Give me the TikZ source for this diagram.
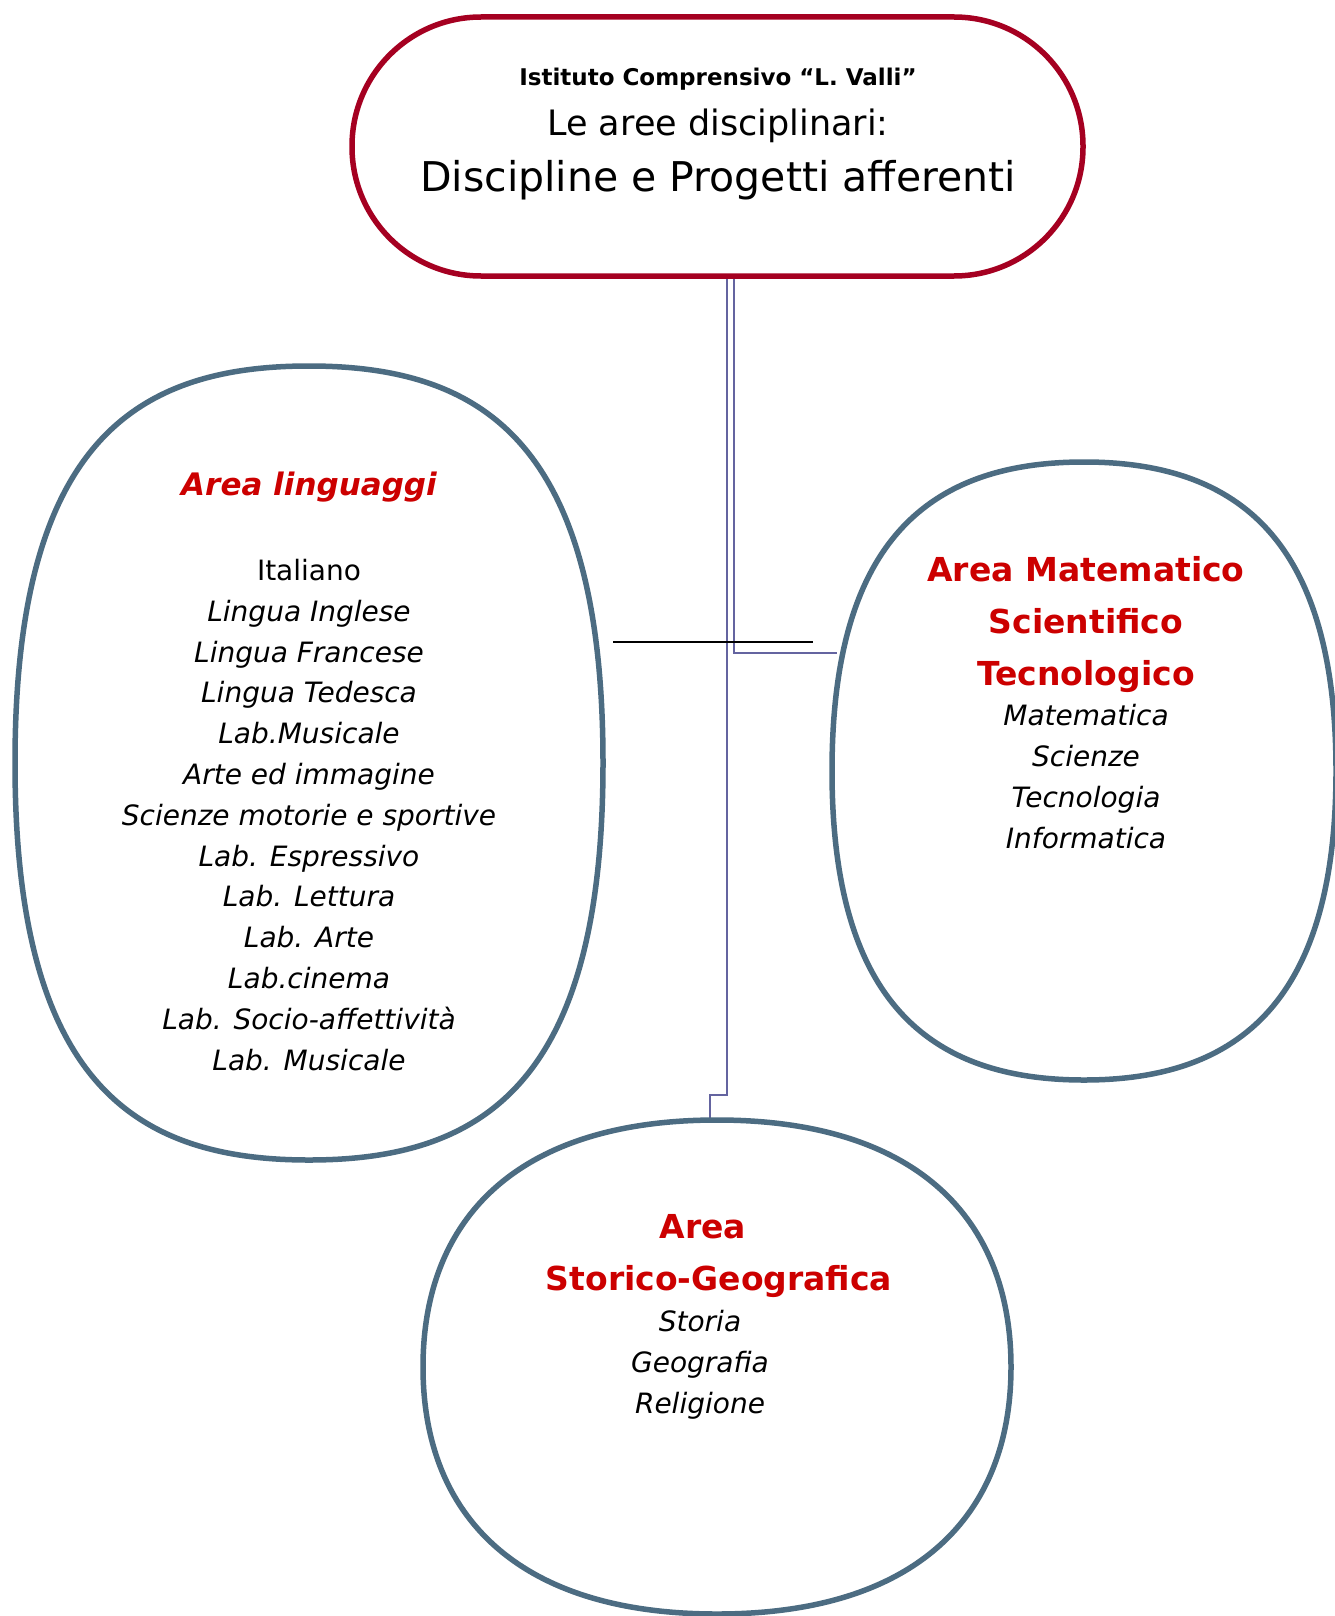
\documentclass[tikz,border=0pt]{standalone}
\usepackage{fontspec}
\setmainfont{DejaVu Sans}
\usepackage{tikz}
\usetikzlibrary{positioning,calc}
\definecolor{bordeaux}{RGB}{165,0,33}
\definecolor{slate}{RGB}{76,108,130}
\definecolor{titlered}{RGB}{204,0,0}
\definecolor{linkblue}{RGB}{100,100,160}
\tikzstyle{topbox}=[draw=bordeaux,line width=5.5pt,rounded corners=129pt,minimum width=731pt,minimum height=259pt,inner sep=0pt]
\tikzstyle{areabox}=[inner sep=0pt,outer sep=0pt]
\tikzstyle{arealine}=[draw=slate,line width=5.5pt,line join=round]
\tikzstyle{headline}=[anchor=base,inner sep=0pt]
\tikzstyle{areatitle}=[text=titlered,font={\fontsize{33}{52}\selectfont\bfseries},align=center,anchor=base,inner sep=0pt]
\tikzstyle{subject}=[font={\fontsize{28}{40.8}\selectfont\itshape},align=center,anchor=base,inner sep=0pt]
\tikzstyle{link}=[draw=linkblue,line width=2pt]
\tikzstyle{plainline}=[draw=black,line width=1.6pt]
% #1 = node, #2 = flatness of top and bottom, #3 = flatness of the sides
\newcommand{\areaoutline}[3]{%
  \draw[arealine] (#1.north)
    .. controls ($(#1.north)!#2!(#1.north east)$) and ($(#1.east)!#3!(#1.north east)$) .. (#1.east)
    .. controls ($(#1.east)!#3!(#1.south east)$) and ($(#1.south)!#2!(#1.south east)$) .. (#1.south)
    .. controls ($(#1.south)!#2!(#1.south west)$) and ($(#1.west)!#3!(#1.south west)$) .. (#1.west)
    .. controls ($(#1.west)!#3!(#1.north west)$) and ($(#1.north)!#2!(#1.north west)$) .. (#1.north) -- cycle;}

\begin{document}
\begin{tikzpicture}[x=1pt,y=-1pt]
\useasboundingbox[fill=white] (0,0) rectangle (1334,1616);

% title box
\node [topbox] (top) at (717.5,146.5) {};
\node [headline,font={\fontsize{23}{30}\selectfont\bfseries}] (inst) at (718,86) {Istituto Comprensivo “L. Valli”};
\node [headline,font={\fontsize{35}{40}\selectfont}] (aree) at (718,136) {Le aree disciplinari:};
\node [headline,font={\fontsize{41}{48}\selectfont}] (disc) at (718,192) {Discipline e Progetti afferenti};

% the three areas
\node [areabox,minimum width=588pt,minimum height=794pt] (ling) at (309,763) {};
\node [areabox,minimum width=504pt,minimum height=618pt] (mat) at (1084,771) {};
\node [areabox,minimum width=588pt,minimum height=494pt] (stor) at (717,1367) {};

% connectors
\coordinate (k1) at (727,1095);
\coordinate (k2) at (710,1095);
\coordinate (m1) at (734,653);
\draw [link] ([xshift=9.5pt]top.south) -- (k1) -- (k2) -- (k2 |- stor.north);
\draw [link] ([xshift=16.5pt]top.south) -- (m1) -- ([xshift=5pt]mat.west |- m1);

\areaoutline{ling}{0.6}{0.8}
\areaoutline{mat}{0.62}{0.74}
\areaoutline{stor}{0.68}{0.6}

% Area linguaggi (base = last line)
\node [areatitle,font={\fontsize{31}{52}\selectfont\bfseries\itshape}] (lingtitle) at (309,495) {Area linguaggi};
\node [subject] (linglist) at (309,1070) {{\upshape Italiano}\\Lingua Inglese\\Lingua Francese\\Lingua Tedesca\\Lab.Musicale\\Arte ed immagine\\Scienze motorie e sportive\\Lab. Espressivo\\Lab. Lettura\\Lab. Arte\\Lab.cinema\\Lab. Socio-affettività\\Lab. Musicale};

% Area matematico scientifico tecnologico
\node [areatitle] (mattitle) at (1086,685) {Area Matematico\\Scientifico\\Tecnologico};
\node [subject] (matlist) at (1086,848) {Matematica\\Scienze\\Tecnologia\\Informatica};

% Area storico-geografica
\node [areatitle] (stortitle) at (703,1238) {Area};
\node [areatitle] (stortitle2) at (719,1290) {Storico-Geografica};
\node [subject] (storlist) at (700,1413) {Storia\\Geografia\\Religione};

\coordinate (h1) at (613,642);
\coordinate (h2) at (813,642);
\draw [plainline] (h1) -- (h2);
\end{tikzpicture}
\end{document}
